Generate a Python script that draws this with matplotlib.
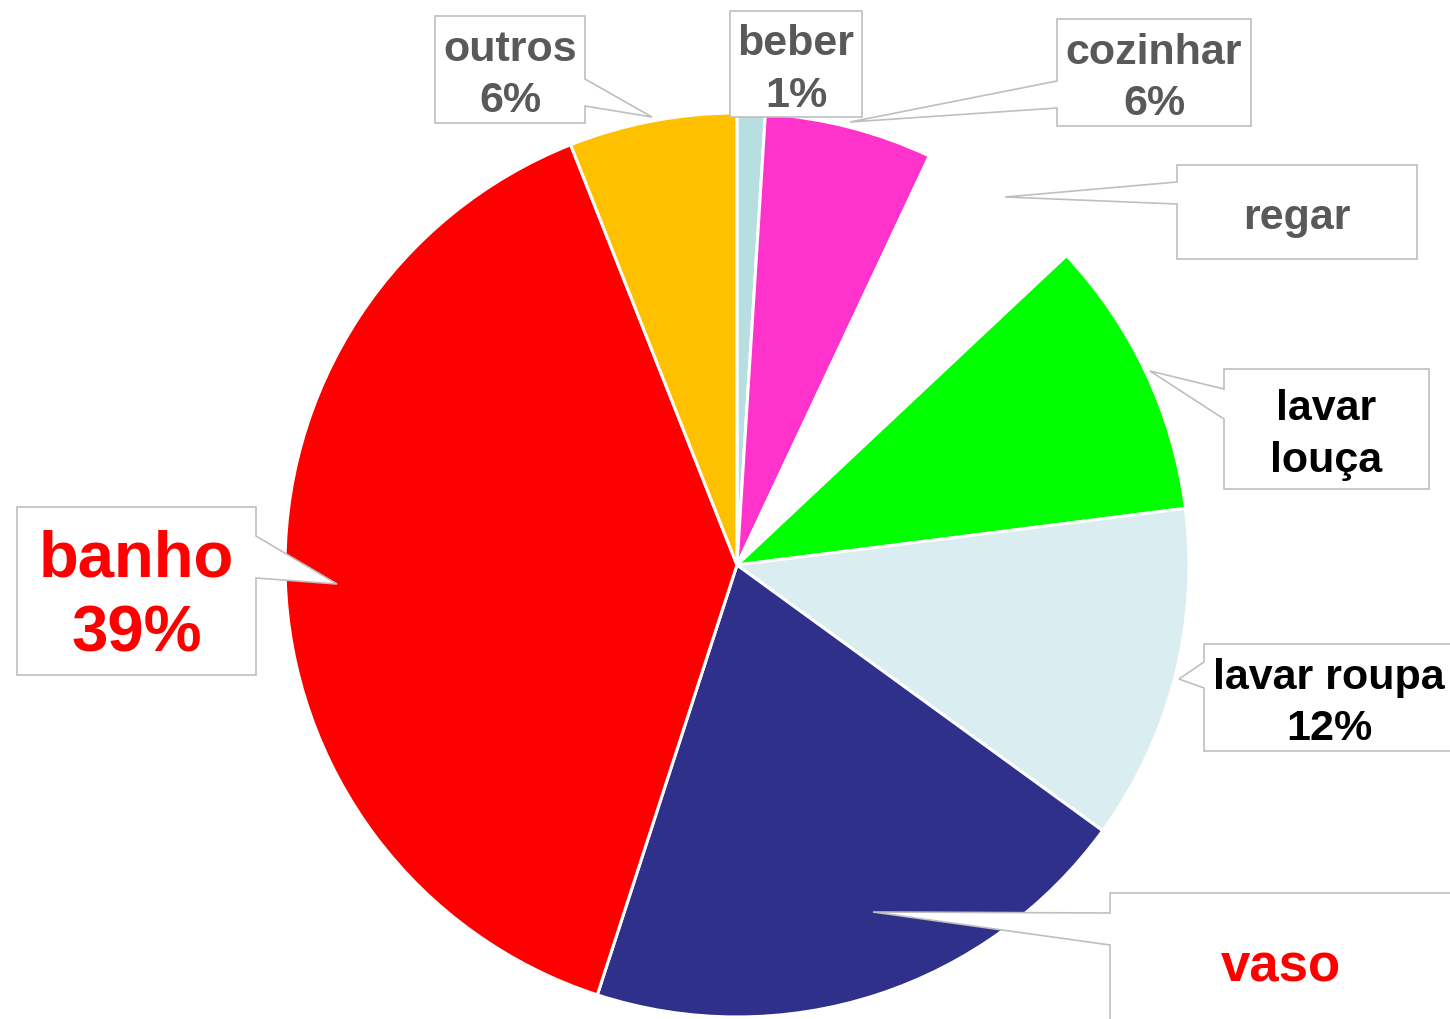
import numpy as np
import matplotlib
matplotlib.use('agg')
import matplotlib.pyplot as plt
from matplotlib.patches import Polygon

# dados
labels = ['beber', 'cozinhar', 'regar', 'lavar\nlouça', 'lavar roupa', 'vaso', 'banho', 'outros']
values = [1, 6, 6, 10, 12, 20, 39, 6]
show_pct = [True, True, False, False, True, False, True, True]
colors = ['#B7DFE2', '#FF33CC', '#FFFFFF', '#00FF00', '#DAEDF0', '#2E3089', '#FF0000', '#FFC000']
text_colors = ['#595959', '#595959', '#595959', '#000000', '#000000', '#FF0000', '#FF0000', '#595959']
font_sizes = [31, 31, 31, 31, 31, 38, 47, 31]

W, H = 1450, 1019

# caixas dos rótulos em pixels: (x0, y0, x1, y1, lado, a, b, ponta)
boxes = [
    (730, 11, 862, 117, None, 0, 0, None),
    (1057, 19, 1251, 126, 'left', 81, 108, (850, 122)),
    (1177, 165, 1417, 259, 'left', 182, 204, (1005, 197)),
    (1224, 369, 1429, 489, 'left', 389, 419, (1150, 371)),
    (1204, 644, 1454, 751, 'left', 662, 688, (1179, 679)),
    (1110, 893, 1452, 1031, 'left', 913, 945, (873, 912)),
    (17, 507, 256, 675, 'right', 536, 578, (337, 584)),
    (435, 16, 585, 123, 'right', 79, 106, (652, 117)),
]


def fy(y):
    return H - y


fig = plt.figure(figsize=(W / 100, H / 100), dpi=100)
ax = fig.add_axes([0, 0, 1, 1])

ax.pie(values, colors=colors, startangle=90, counterclock=False,
       center=(737, fy(565)), radius=452, frame=True,
       wedgeprops=dict(edgecolor='white', linewidth=2.2))
ax.set_xlim(0, W)
ax.set_ylim(0, H)
ax.set_aspect('equal')
ax.axis('off')

for i, (x0, y0, x1, y1, side, a, b, tip) in enumerate(boxes):
    pts = [(x0, y0), (x1, y0)]
    if side == 'right':
        pts += [(x1, a), tip, (x1, b)]
    pts += [(x1, y1), (x0, y1)]
    if side == 'left':
        pts += [(x0, b), tip, (x0, a)]
    pts = [(px, fy(py)) for px, py in pts]
    ax.add_patch(Polygon(pts, closed=True, facecolor='white', edgecolor='#BFBFBF',
                         linewidth=1.2, zorder=5, clip_on=False))
    txt = labels[i]
    if show_pct[i]:
        txt += '\n%d%%' % values[i]
    ax.text((x0 + x1) / 2, fy((y0 + y1) / 2 + 6), txt, ha='center', va='center',
            fontsize=font_sizes[i], fontweight='bold', color=text_colors[i],
            family='Liberation Sans', linespacing=1.3 if i == 6 else 1.36, zorder=6)

plt.savefig('out.png', dpi=100)
